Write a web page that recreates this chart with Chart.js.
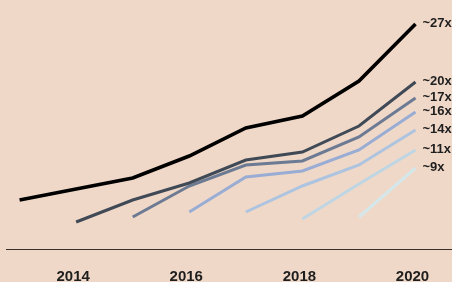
<!DOCTYPE html>
<html>
<head>
<meta charset="utf-8">
<script src="https://cdn.jsdelivr.net/npm/chart.js@4"></script>
<style>
  html, body { margin: 0; padding: 0; background: #f0d8c8; }
  #wrap { width: 452px; height: 282px; }
</style>
</head>
<body>
<div id="wrap"><canvas id="mycanvas" width="452" height="282"></canvas></div>
<script>
// years on the x axis
var years = [2013, 2014, 2015, 2016, 2017, 2018, 2019, 2020];
var tickYears = [2014, 2016, 2018, 2020];

// one series per starting year, null before it starts
var s2013 = [4.9, 6.0, 7.1, 9.3, 12.1, 13.3, 16.8, 22.5];
var s2014 = [null, 2.7, 4.9, 6.6, 8.9, 9.7, 12.3, 16.7];
var s2015 = [null, null, 3.2, 6.3, 8.4, 8.8, 11.2, 15.1];
var s2016 = [null, null, null, 3.7, 7.2, 7.8, 9.9, 13.7];
var s2017 = [null, null, null, null, 3.7, 6.3, 8.4, 11.9];
var s2018 = [null, null, null, null, null, 3.0, 6.5, 9.9];
var s2019 = [null, null, null, null, null, null, 3.2, 8.1];

var endLabels = ["~27x", "~20x", "~17x", "~16x", "~14x", "~11x", "~9x"];

var allSeries = [s2013, s2014, s2015, s2016, s2017, s2018, s2019];
var lineColors = ["#000000", "#404a57", "#6c7b93", "#99add4", "#adc4e0", "#bed6e4", "#d4e7ea"];

function toPoints(arr) {
    var pts = [];
    for (var i in arr) {
        if (arr[i] !== null) pts.push({ x: years[i], y: arr[i] });
    }
    return pts;
}

var datasets = [];
for (var i = 0; i < allSeries.length; i++) {
    datasets.push({
        label: endLabels[i],
        data: toPoints(allSeries[i]),
        borderColor: lineColors[i],
        borderWidth: i == 0 ? 3.6 : 3,
        pointRadius: 0,
        tension: 0,
        fill: false
    });
}

// draw the "~27x" style labels next to each line's last point
var endLabelPlugin = {
    id: 'endLabels',
    afterDatasetsDraw: function(chart) {
        var ctx = chart.ctx;
        ctx.save();
        ctx.font = "bold 13px 'Liberation Sans', Arial, sans-serif";
        ctx.fillStyle = "#1e1e1e";
        ctx.textAlign = "left";
        ctx.textBaseline = "middle";
        chart.data.datasets.forEach(function(ds, i) {
            var meta = chart.getDatasetMeta(i);
            var last = meta.data[meta.data.length - 1];
            ctx.fillText(ds.label, last.x + 7, last.y - 1);
        });
        ctx.restore();
    }
};

var ctx = document.getElementById("mycanvas");
var chart = new Chart(ctx, {
    type: 'line',
    data: { datasets: datasets },
    plugins: [endLabelPlugin],
    options: {
        responsive: false,
        animation: false,
        layout: { padding: { left: 6, right: 0, top: 0, bottom: 0 } },
        plugins: {
            legend: { display: false },
            tooltip: { enabled: false }
        },
        scales: {
            x: {
                type: 'linear',
                min: 2012.76,
                max: 2020.645,
                afterBuildTicks: function(scale) {
                    scale.ticks = tickYears.map(function(v) { return { value: v }; });
                },
                afterFit: function(scale) {
                    scale.height = 33;
                },
                grid: { display: false, drawTicks: false },
                border: { display: true, color: "#3a302c", width: 1 },
                ticks: {
                    padding: 19,
                    labelOffset: -3,
                    autoSkip: false,
                    maxRotation: 0,
                    color: "#1e1e1e",
                    font: { family: "'Liberation Sans', Arial, sans-serif", size: 15, weight: 'bold' },
                    callback: function(v) { return String(v); }
                }
            },
            y: {
                display: false,
                min: 0,
                max: 24.9
            }
        }
    }
});
</script>
</body>
</html>
